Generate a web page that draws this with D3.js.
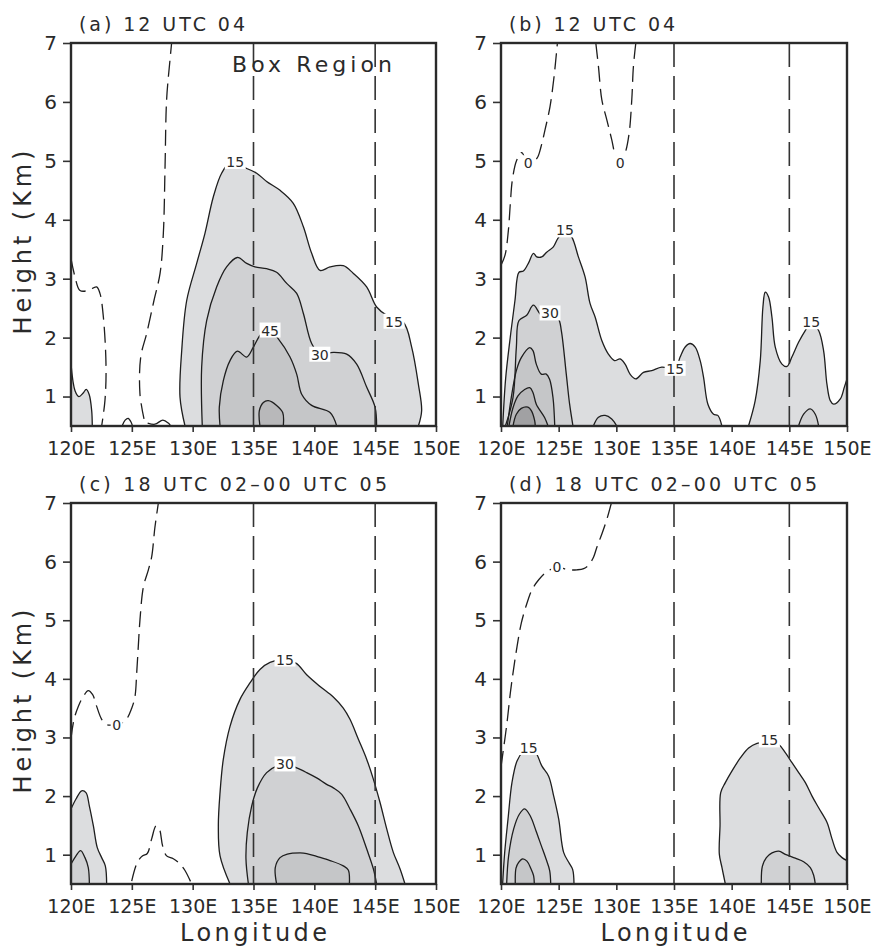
<!DOCTYPE html>
<html>
<head>
    <meta charset="utf-8">
    <script src="https://d3js.org/d3.v7.min.js"></script>
    <style>
        body { margin: 0; background: #fff; }
        text { font-family: "DejaVu Sans", sans-serif; fill: #2a2a2a; }
        .tick text { font-size: 19px; }
        .tick line { stroke: #333; stroke-width: 1.6; }
        .clabel { font-size: 14px; text-anchor: middle; }
    </style>
</head>
<body>
<script type="text/javascript">

    // axis values
    var lonTicks = [120, 125, 130, 135, 140, 145, 150];
    var hTicks = [1, 2, 3, 4, 5, 6, 7];
    var boxLons = [135, 145];

    // ---- panel (a) : contours as [lon, height km]
    var a15 = [[129.37,0.5],[128.96,0.99],[129.1,1.78],[129.51,2.63],[130.33,3.26],[131.01,3.77],[131.7,4.39],[132.38,4.79],[133.07,4.96],[134.44,4.87],[135.26,4.79],[136.08,4.65],[137.18,4.5],[138.27,4.28],[139.1,3.88],[139.78,3.43],[140.47,3.14],[141.29,3.2],[142.38,3.22],[143.21,3.09],[144.3,2.86],[145.12,2.52],[145.95,2.38],[147.32,2.26],[148.0,1.84],[148.55,1.21],[148.82,0.76],[148.55,0.5]];
    var a15w = [[120,1.55],[120.33,1.1],[120.65,1.0],[121.0,1.06],[121.25,1.12],[121.5,1.03],[121.7,0.76],[121.75,0.5]];
    var a30 = [[130.79,0.5],[130.74,1.5],[131.15,2.29],[131.97,2.86],[132.79,3.2],[133.67,3.36],[134.44,3.26],[135.12,3.2],[136.08,3.17],[136.9,3.11],[137.73,2.92],[138.55,2.75],[139.1,2.41],[139.78,1.9],[140.47,1.72],[141.56,1.75],[142.66,1.72],[143.48,1.55],[144.3,1.16],[144.99,0.82],[145.12,0.5]];
    var a45 = [[132.25,0.5],[132.19,0.82],[132.52,1.27],[133.07,1.61],[133.67,1.77],[134.44,1.67],[134.99,1.84],[135.67,2.07],[136.36,2.12],[137.04,1.98],[138.0,1.67],[138.55,1.38],[138.96,1.04],[139.78,0.85],[141.29,0.73],[141.84,0.5]];
    var a60 = [[135.53,0.5],[135.48,0.76],[135.81,0.9],[136.22,0.93],[136.9,0.85],[137.4,0.73],[137.45,0.5]];
    var a15b1 = [[124.2,0.5],[124.45,0.6],[124.7,0.63],[124.95,0.56],[125.05,0.5]];
    var a15b2 = [[126.3,0.55],[126.9,0.53],[127.55,0.6],[128.0,0.55],[128.2,0.5]];
    var a0w = [[120,3.34],[120.33,3.03],[120.74,2.8],[121.42,2.8],[122.1,2.86],[122.38,2.75],[122.66,2.35],[122.88,1.5],[122.79,0.93],[122.52,0.5]];
    var a0e = [[126.0,0.62],[125.67,1.04],[125.73,1.67],[126.22,2.07],[126.82,2.63],[127.32,3.09],[127.59,3.77],[127.73,4.9],[127.86,6.04],[128.14,6.72],[128.27,7.0]];
    var aLabels = [[133.5,4.98,"15"],[146.55,2.27,"15"],[140.45,1.71,"30"],[136.36,2.12,"45"]];

    // ---- panel (b)
    var b15 = [[120.15,0.5],[120.4,1.3],[120.8,2.0],[121.21,2.63],[121.56,3.11],[121.94,3.13],[122.37,3.26],[122.81,3.43],[123.1,3.37],[123.53,3.37],[123.96,3.45],[124.54,3.54],[124.92,3.68],[125.55,3.82],[126.13,3.71],[126.71,3.37],[127.29,3.03],[127.72,2.58],[128.16,2.35],[128.74,1.95],[129.31,1.72],[129.84,1.61],[130.33,1.64],[130.76,1.55],[131.19,1.38],[131.69,1.3],[132.35,1.41],[133.07,1.44],[133.94,1.5],[135.1,1.47],[135.53,1.67],[135.97,1.84],[136.4,1.9],[136.84,1.84],[137.27,1.61],[137.56,1.33],[137.94,0.87],[138.43,0.7],[138.8,0.68],[139.15,0.5]];
    var b15e = [[141.46,0.5],[142.04,0.93],[142.48,1.61],[142.71,2.52],[142.91,2.77],[143.2,2.69],[143.49,2.35],[143.78,1.84],[144.36,1.55],[144.79,1.51],[145.22,1.67],[145.8,1.92],[146.38,2.12],[146.9,2.26],[147.54,2.12],[147.97,1.78],[148.26,1.21],[148.55,0.93],[148.84,0.87],[149.42,0.96],[149.77,1.16],[150,1.3]];
    var b30 = [[120.38,0.5],[121.04,0.98],[121.33,1.83],[121.56,2.29],[122.23,2.38],[122.81,2.55],[123.53,2.38],[124.25,2.41],[124.98,2.32],[125.23,2.12],[125.66,1.38],[125.95,0.87],[126.24,0.5]];
    var b30m = [[128.01,0.5],[128.45,0.65],[129.03,0.68],[129.6,0.62],[130.04,0.5]];
    var b30e = [[145.8,0.5],[146.24,0.7],[146.81,0.79],[147.25,0.7],[147.54,0.5]];
    var b45 = [[120.55,0.5],[120.89,0.98],[121.33,1.44],[121.76,1.66],[122.49,1.83],[122.77,1.78],[123.06,1.55],[123.49,1.38],[123.93,1.38],[124.22,1.29],[124.51,0.98],[124.66,0.5]];
    var b60 = [[120.69,0.5],[121.04,0.81],[121.47,1.01],[122.05,1.12],[122.49,1.15],[122.77,1.07],[123.06,0.87],[123.79,0.64],[124.08,0.5]];
    var b75 = [[121.04,0.5],[121.33,0.7],[121.76,0.8],[122.34,0.82],[122.63,0.76],[122.92,0.59],[122.97,0.5]];
    var b0w = [[120,3.23],[120.35,3.4],[120.64,3.82],[120.81,4.28],[120.98,4.67],[121.36,5.01],[121.79,5.14],[122.37,4.96],[123.1,5.04],[123.47,5.24],[123.82,5.53],[124.25,5.92],[124.6,6.43],[124.89,7.0]];
    var b0e = [[128.22,7.0],[128.45,6.6],[128.74,6.04],[129.17,5.7],[129.6,5.36],[129.95,5.07],[130.33,4.96],[130.76,5.13],[131.11,5.47],[131.34,6.04],[131.48,6.6],[131.69,7.0]];
    var bLabels = [[122.37,4.96,"0"],[130.33,4.96,"0"],[125.55,3.82,"15"],[124.25,2.41,"30"],[135.1,1.47,"15"],[146.9,2.26,"15"]];

    // ---- panel (c)
    var c15 = [[133.07,0.5],[132.25,0.98],[132.11,1.49],[132.25,2.06],[132.52,2.63],[133.07,3.19],[133.89,3.65],[134.71,3.93],[135.53,4.16],[136.36,4.28],[137.59,4.33],[138.55,4.26],[139.37,4.07],[140.47,3.87],[141.56,3.69],[142.38,3.5],[142.93,3.31],[143.62,2.97],[144.3,2.63],[144.85,2.29],[145.4,1.89],[145.95,1.44],[146.49,1.04],[147.04,0.76],[147.45,0.5]];
    var c30 = [[134.58,0.5],[134.38,0.93],[134.49,1.38],[134.85,1.83],[135.32,2.14],[136.08,2.4],[136.9,2.51],[137.73,2.54],[138.55,2.48],[139.37,2.4],[140.19,2.31],[141.01,2.2],[141.56,2.14],[142.25,2.03],[142.93,1.78],[143.62,1.49],[144.3,1.1],[144.85,0.76],[145.12,0.5]];
    var c45 = [[136.9,0.5],[136.79,0.78],[137.18,0.95],[137.78,1.01],[138.82,1.03],[139.37,1.02],[140.19,0.97],[141.29,0.9],[142.38,0.81],[142.79,0.74],[142.88,0.5]];
    var c15w = [[120,1.78],[120.41,1.95],[120.88,2.09],[121.23,2.06],[121.51,1.83],[121.84,1.49],[122.16,1.12],[122.52,0.95],[122.82,0.81],[122.93,0.5]];
    var c30w = [[120,0.84],[120.41,0.98],[120.79,1.07],[121.15,0.95],[121.42,0.78],[121.51,0.5]];
    var c0 = [[120,2.99],[120.25,3.31],[120.6,3.53],[121.01,3.7],[121.42,3.8],[121.78,3.73],[122.11,3.53],[122.52,3.31],[122.93,3.22],[123.34,3.21],[123.75,3.22],[124.44,3.28],[124.99,3.5],[125.26,3.7],[125.4,4.1],[125.53,4.55],[125.67,5.01],[125.95,5.57],[126.36,5.86],[126.63,6.08],[126.9,6.59],[127.18,7.0]];
    var c0s = [[124.99,0.55],[125.45,0.87],[125.89,0.98],[126.27,1.02],[126.63,1.27],[126.99,1.49],[127.26,1.44],[127.53,1.15],[127.86,0.98],[128.41,0.93],[128.96,0.84],[129.37,0.73],[129.92,0.5]];
    var cLabels = [[123.75,3.22,"0"],[137.59,4.33,"15"],[137.59,2.54,"30"]];

    // ---- panel (d)
    var d15w = [[120.14,0.5],[120.32,1.04],[120.61,1.61],[120.95,2.23],[121.39,2.6],[121.88,2.75],[122.4,2.8],[122.98,2.75],[123.55,2.51],[124.13,2.34],[124.57,2.0],[125.0,1.61],[125.43,1.04],[125.87,0.87],[126.21,0.75],[126.33,0.5]];
    var d30w = [[120.49,0.5],[120.66,0.98],[121.1,1.44],[121.59,1.69],[122.05,1.78],[122.54,1.66],[123.03,1.41],[123.5,1.15],[123.9,0.93],[124.22,0.73],[124.31,0.5]];
    var d45w = [[121.24,0.5],[121.3,0.77],[121.53,0.87],[121.88,0.93],[122.25,0.89],[122.6,0.76],[122.83,0.64],[122.89,0.5]];
    var d15e = [[139.45,0.5],[139.16,0.78],[138.93,1.01],[138.99,1.49],[139.05,2.06],[139.45,2.23],[140.03,2.43],[140.75,2.65],[141.47,2.82],[142.2,2.9],[143.21,2.92],[144.08,2.88],[144.65,2.74],[145.23,2.57],[145.81,2.4],[146.39,2.23],[146.97,2.0],[147.54,1.8],[148.27,1.55],[148.7,1.27],[149.13,1.04],[149.57,0.95],[150,0.9]];
    var d30e = [[142.57,0.5],[142.66,0.8],[143.01,0.95],[143.5,1.03],[144.08,1.06],[144.71,1.0],[145.52,0.94],[146.24,0.88],[146.82,0.78],[147.11,0.65],[147.25,0.5]];
    var d0 = [[120,2.5],[120.17,2.74],[120.52,3.25],[120.81,3.76],[121.1,4.18],[121.39,4.55],[121.76,4.95],[122.25,5.29],[122.69,5.52],[123.27,5.69],[123.99,5.83],[124.86,5.9],[125.87,5.86],[126.59,5.86],[127.17,5.88],[127.6,5.94],[128.03,6.08],[128.32,6.25],[128.76,6.48],[129.19,6.73],[129.57,7.0]];
    var dLabels = [[124.86,5.9,"0"],[122.4,2.82,"15"],[143.27,2.95,"15"]];

    var shade = { 15: "#dcdddf", 30: "#d0d1d3", 45: "#c5c6c8", 60: "#b8b8ba", 75: "#a1a1a3" };

    var panels = [
        { box: [71, 43, 436, 426], title: "(a) 12 UTC 04", tLen: 166,
          filled: [[a15,15],[a15w,15],[a30,30],[a45,45],[a60,60]], solid: [a15b1, a15b2],
          dashed: [a0w, a0e], labels: aLabels, yTitle: true, xTitle: false },
        { box: [501, 43, 847, 426], title: "(b) 12 UTC 04", tLen: 166,
          filled: [[b15,15],[b15e,15],[b30,30],[b30m,30],[b30e,30],[b45,45],[b60,60],[b75,75]], solid: [],
          dashed: [b0w, b0e], labels: bLabels, yTitle: false, xTitle: false },
        { box: [71, 503, 436, 884], title: "(c) 18 UTC 02\u201300 UTC 05", tLen: 308,
          filled: [[c15,15],[c15w,15],[c30,30],[c30w,30],[c45,45]], solid: [],
          dashed: [c0, c0s], labels: cLabels, yTitle: true, xTitle: true },
        { box: [501, 503, 847, 884], title: "(d) 18 UTC 02\u201300 UTC 05", tLen: 308,
          filled: [[d15w,15],[d30w,30],[d45w,45],[d15e,15],[d30e,30]], solid: [],
          dashed: [d0], labels: dLabels, yTitle: false, xTitle: true }
    ];

    var svg = d3.select("body").append("svg")
        .attr("width", 872).attr("height", 947);

    panels.forEach(function(p, i) {
        var x0 = p.box[0], y0 = p.box[1], x1 = p.box[2], y1 = p.box[3];
        var x = d3.scaleLinear().domain([120, 150]).range([x0, x1]);
        var y = d3.scaleLinear().domain([0.5, 7]).range([y1, y0]);
        var line = d3.line()
            .x(function(d) { return x(d[0]); })
            .y(function(d) { return y(d[1]); })
            .curve(d3.curveCatmullRom.alpha(0.5));

        var g = svg.append("g");
        g.append("clipPath").attr("id", "clip" + i)
            .append("rect").attr("x", x0).attr("y", y0)
            .attr("width", x1 - x0).attr("height", y1 - y0);
        var plot = g.append("g").attr("clip-path", "url(#clip" + i + ")");

        // shaded areas, each closed along the ground
        p.filled.forEach(function(f) {
            var pts = f[0], first = pts[0], last = pts[pts.length - 1];
            var path = line(pts) + "L" + x(last[0]) + "," + y(0.5) +
                       "L" + x(first[0]) + "," + y(0.5) + "Z";
            plot.append("path").attr("d", path)
                .attr("fill", shade[f[1]]).attr("stroke", "none");
        });
        p.filled.forEach(function(f) {
            plot.append("path").attr("d", line(f[0]))
                .attr("fill", "none").attr("stroke", "#1e1e1e").attr("stroke-width", 1.3);
        });
        p.solid.forEach(function(s) {
            plot.append("path").attr("d", line(s))
                .attr("fill", "none").attr("stroke", "#1e1e1e").attr("stroke-width", 1.3);
        });
        p.dashed.forEach(function(s) {
            plot.append("path").attr("d", line(s))
                .attr("fill", "none").attr("stroke", "#1e1e1e").attr("stroke-width", 1.3)
                .attr("stroke-dasharray", "16,7");
        });

        // box region boundaries
        plot.selectAll(".boxline").data(boxLons).enter().append("line")
            .attr("x1", function(d) { return x(d); }).attr("x2", function(d) { return x(d); })
            .attr("y1", y0).attr("y2", y1)
            .attr("stroke", "#333").attr("stroke-width", 1.6)
            .attr("stroke-dasharray", "24,9");

        // contour labels
        p.labels.forEach(function(l) {
            var w = l[2].length * 9 + 3;
            g.append("rect").attr("x", x(l[0]) - w / 2).attr("y", y(l[1]) - 8)
                .attr("width", w).attr("height", 15).attr("fill", "#fff");
            g.append("text").attr("class", "clabel")
                .attr("x", x(l[0])).attr("y", y(l[1]) + 5).text(l[2]);
        });

        // axes
        var ax = g.append("g").attr("transform", "translate(0," + y1 + ")")
            .call(d3.axisBottom(x).tickValues(lonTicks).tickSize(6).tickSizeOuter(0)
                .tickFormat(function(d) { return d + "E"; }));
        ax.select(".domain").remove();
        ax.selectAll("text").attr("dy", "1.05em");
        var ay = g.append("g").attr("transform", "translate(" + x0 + ",0)")
            .call(d3.axisLeft(y).tickValues(hTicks).tickSize(8).tickSizeOuter(0)
                .tickPadding(6).tickFormat(d3.format("d")));
        ay.select(".domain").remove();
        ay.selectAll("text").style("font-size", "20px");

        // frame
        g.append("rect").attr("x", x0).attr("y", y0)
            .attr("width", x1 - x0).attr("height", y1 - y0)
            .attr("fill", "none").attr("stroke", "#2a2a2a").attr("stroke-width", 2.4);

        // titles
        g.append("text").attr("x", x0 + 8).attr("y", y0 - 12)
            .attr("textLength", p.tLen).attr("lengthAdjust", "spacing")
            .style("font-size", "19px").text(p.title);
        if (p.yTitle) {
            g.append("text")
                .attr("transform", "translate(31," + ((y0 + y1) / 2 + 8) + ") rotate(-90)")
                .attr("text-anchor", "middle")
                .attr("textLength", 184).attr("lengthAdjust", "spacing")
                .style("font-size", "24px").text("Height (Km)");
        }
        if (p.xTitle) {
            g.append("text").attr("x", (x0 + x1) / 2).attr("y", y1 + 57)
                .attr("text-anchor", "middle")
                .attr("textLength", 147).attr("lengthAdjust", "spacing")
                .style("font-size", "24px").text("Longitude");
        }
        if (i === 0) {
            g.append("text").attr("x", 232).attr("y", 72)
                .attr("textLength", 160).attr("lengthAdjust", "spacing")
                .style("font-size", "22px").text("Box Region");
        }
    });

</script>
</body>
</html>
